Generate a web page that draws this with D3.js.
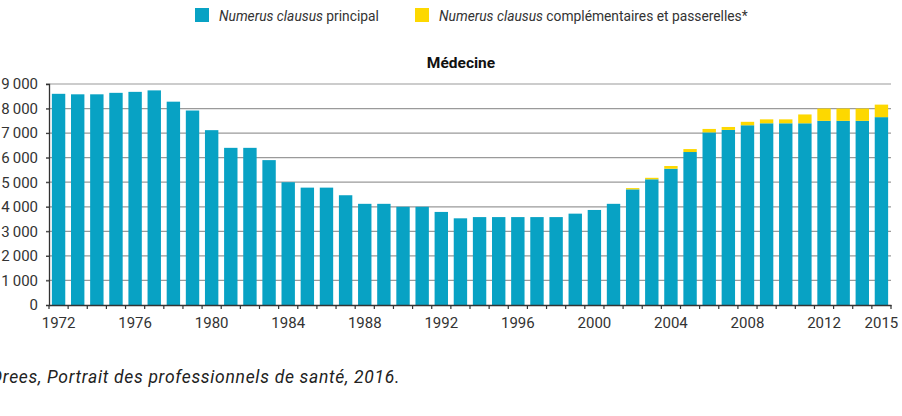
<!DOCTYPE html>
<html>
<head>
<meta charset="utf-8">
<script src="https://cdn.jsdelivr.net/npm/d3@7"></script>
<style>
  body { margin: 0; background: #fff; }
  svg { display: block; }
</style>
</head>
<body>
<div class="svg-container"></div>
<script>
// années et effectifs du numerus clausus
const years = d3.range(1972, 2016)

const principal = [
  8600, 8580, 8580, 8640, 8680, 8740, 8280, 7920, 7120, 6400,
  6400, 5900, 5000, 4780, 4780, 4470, 4120, 4120, 4000, 4000,
  3790, 3530, 3580, 3580, 3580, 3580, 3580, 3720, 3870, 4120,
  4710, 5120, 5550, 6230, 7030, 7130, 7320, 7400, 7400, 7400,
  7500, 7500, 7500, 7650
]

const complementaires = [
  0, 0, 0, 0, 0, 0, 0, 0, 0, 0,
  0, 0, 0, 0, 0, 0, 0, 0, 0, 0,
  0, 0, 0, 0, 0, 0, 0, 0, 0, 0,
  50, 60, 110, 120, 140, 120, 140, 160, 160, 360,
  500, 500, 500, 510
]

const yTicks = [0, 1000, 2000, 3000, 4000, 5000, 6000, 7000, 8000, 9000]
const labelledYears = [1972, 1976, 1980, 1984, 1988, 1992, 1996, 2000, 2004, 2008, 2012, 2015]

const width = 902
const height = 416
const plot = { left: 49, right: 891, top: 84, bottom: 305 }

const blue = '#08a2c4'
const yellow = '#fdd800'
const font = 'Roboto, "Open Sans", sans-serif'

const svg = d3.select('.svg-container')
  .append('svg')
  .attr('width', width)
  .attr('height', height)

const rows = years.map((year, i) => ({ year, principal: principal[i], complementaires: complementaires[i] }))
const stacked = d3.stack().keys(['principal', 'complementaires'])(rows)

const x = d3.scaleBand()
  .domain(years)
  .range([plot.left, plot.right])
  .paddingInner(0.3)
  .paddingOuter(0.15)

const y = d3.scaleLinear()
  .domain([0, 9000])
  .range([plot.bottom, plot.top])

const frFormat = d3.formatLocale({ decimal: ',', thousands: '\u2009', grouping: [3], currency: ['', ' €'] })
  .format(',d')

// quadrillage horizontal
svg.append('g')
  .selectAll('line')
  .data(yTicks.slice(1))
  .join('line')
    .attr('x1', plot.left - 3)
    .attr('x2', plot.right)
    .attr('y1', d => y(d))
    .attr('y2', d => y(d))
    .attr('stroke', '#9a9a9a')
    .attr('stroke-width', 1.2)

// barres empilées
svg.append('g')
  .selectAll('g')
  .data(stacked)
  .join('g')
    .attr('fill', (d, i) => i === 0 ? blue : yellow)
  .selectAll('rect')
  .data(d => d)
  .join('rect')
    .attr('x', d => x(d.data.year))
    .attr('width', x.bandwidth())
    .attr('y', d => y(d[1]))
    .attr('height', d => y(d[0]) - y(d[1]))

// axe des ordonnées
const yAxis = d3.axisLeft(y)
  .tickValues(yTicks)
  .tickFormat(frFormat)
  .tickSize(3)
  .tickPadding(8)

const yAxisG = svg.append('g')
  .attr('transform', `translate(${plot.left}, 0)`)
  .call(yAxis)

yAxisG.select('.domain').attr('stroke', '#333').attr('stroke-width', 1.3)
yAxisG.selectAll('.tick line').attr('stroke', '#333')
yAxisG.selectAll('.tick text')
  .attr('font-family', font)
  .attr('font-size', 15)
  .attr('fill', '#333')

// axe des abscisses : libellés centrés sur les barres
const xAxis = d3.axisBottom(x)
  .tickValues(labelledYears)
  .tickSize(0)
  .tickPadding(12)

const xAxisG = svg.append('g')
  .attr('transform', `translate(0, ${plot.bottom})`)
  .call(xAxis)

xAxisG.select('.domain').attr('stroke', '#333').attr('stroke-width', 1.3)
xAxisG.selectAll('.tick text')
  .attr('font-family', font)
  .attr('font-size', 15)
  .attr('fill', '#333')

// graduations entre les barres
const step = x.step()
const boundaries = d3.range(years.length + 1).map(i => plot.left + i * step)

xAxisG.append('g')
  .selectAll('line')
  .data(boundaries)
  .join('line')
    .attr('x1', d => d)
    .attr('x2', d => d)
    .attr('y1', 0)
    .attr('y2', 4)
    .attr('stroke', '#333')
    .attr('stroke-width', 1.2)

// titre
svg.append('text')
  .attr('x', 461)
  .attr('y', 68)
  .attr('text-anchor', 'middle')
  .attr('font-family', font)
  .attr('font-weight', 'bold')
  .attr('font-size', 15.5)
  .attr('fill', '#111')
  .text('Médecine')

// légende (texte resserré horizontalement pour rester condensé comme l'original)
const legendItems = [
  { color: blue, x: 195, italic: 'Numerus clausus', rest: ' principal', len: 160 },
  { color: yellow, x: 415, italic: 'Numerus clausus', rest: ' complémentaires et passerelles*', len: 309 }
]

const legend = svg.append('g')
  .selectAll('g')
  .data(legendItems)
  .join('g')
    .attr('transform', d => `translate(${d.x}, 0)`)

legend.append('rect')
  .attr('x', 0)
  .attr('y', 8)
  .attr('width', 14)
  .attr('height', 14)
  .attr('fill', d => d.color)

const legendText = legend.append('text')
  .attr('font-family', font)
  .attr('font-size', 15.5)
  .attr('fill', '#333')

legendText.append('tspan')
  .attr('font-style', 'italic')
  .text(d => d.italic)

legendText.append('tspan')
  .text(d => d.rest)

legendText.each(function (d) {
  const natural = this.getComputedTextLength()
  const sx = d.len / natural
  d3.select(this).attr('transform', `translate(24, 21) scale(${sx}, 1)`)
})

// source
svg.append('text')
  .attr('x', -9)
  .attr('y', 383)
  .attr('font-family', font)
  .attr('font-style', 'italic')
  .attr('font-size', 17.5)
  .attr('letter-spacing', 0.7)
  .attr('fill', '#222')
  .text('Drees, Portrait des professionnels de santé, 2016.')
</script>
</body>
</html>
